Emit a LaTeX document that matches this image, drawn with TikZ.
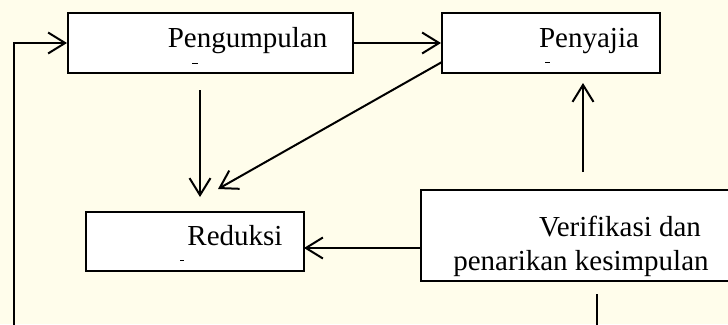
\documentclass[tikz,border=0pt]{standalone}
\usepackage{fontspec}
\setmainfont{Liberation Serif}
\usetikzlibrary{arrows.meta}

\definecolor{paper}{HTML}{FFFDEB}

\tikzset{
  stagebox/.style={draw=black, line width=2pt, fill=white, inner sep=0pt},
  label/.style={inner sep=0pt, anchor=base, font=\fontsize{29}{33}\selectfont},
  flow/.style={draw=black, line width=2pt, -{Straight Barb[length=17pt,width=21pt,line width=2pt]}},
  plain/.style={draw=black, line width=2pt},
  tick/.style={draw=black, line width=1pt}
}

\begin{document}
\begin{tikzpicture}[x=1pt, y=-1pt]
  \clip (0,0) rectangle (728,324);
  \fill[paper] (0,0) rectangle (728,324);

  % stage boxes
  \node[stagebox, minimum width=285, minimum height=60] (peng) at (210.5,43) {};
  \node[stagebox, minimum width=218, minimum height=60] (peny) at (551,43) {};
  \node[stagebox, minimum width=218, minimum height=59] (red)  at (195,241.5) {};
  \node[stagebox, minimum width=340, minimum height=91] (ver)  at (591,235.5) {};

  % box captions
  \node[label] (tpeng) at (247.5,47) {Pengumpulan};
  \node[label] (tpeny) at (589,47) {Penyajia};
  \node[label] (tred)  at (235,245) {Reduksi};
  \node[label] (tver1) at (620,236) {Verifikasi dan};
  \node[label] (tver2) at (581,270) {penarikan kesimpulan};

  % small marks under the captions
  \draw[tick] (192,63) -- (198,63);
  \draw[tick] (545,62) -- (550,62);
  \draw[tick] (180,260) -- (184,260);

  % connector end points
  \coordinate (dtop) at (200,90);
  \coordinate (dbot) at (200,197);
  \coordinate (dgs)  at (442,62);
  \coordinate (dge)  at (218,189);
  \coordinate (vup0) at (583,172);
  \coordinate (vup1) at (583,83);
  \coordinate (vl0)  at (421,248);
  \coordinate (vl1)  at (304,248);
  \coordinate (fb0)  at (597,294);
  \coordinate (fb1)  at (597,345);
  \coordinate (fb2)  at (14,345);
  \coordinate (fb3)  at (14,43);

  % flow
  \draw[flow] (peng.east) -- (peny.west);
  \draw[flow] (dtop) -- (dbot);
  \draw[flow] (dgs) -- (dge);
  \draw[flow] (vup0) -- (vup1);
  \draw[flow] (vl0) -- (vl1);
  \draw[flow] (fb0) -- (fb1) -- (fb2) -- (fb3) -- (peng.west);
\end{tikzpicture}
\end{document}
